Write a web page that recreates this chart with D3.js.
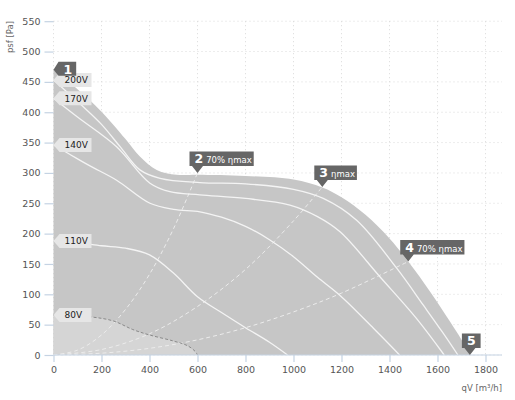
<!DOCTYPE html>
<html>
<head>
<meta charset="utf-8">
<title>Fan curve</title>
<script src="https://cdn.jsdelivr.net/npm/d3@7"></script>
<style>
  body { margin: 0; background: #fff; }
  svg { display: block; font-family: "DejaVu Sans", Verdana, sans-serif; }
</style>
</head>
<body>
<div id="chart"></div>
<script>
// values
var qTicks = [0, 200, 400, 600, 800, 1000, 1200, 1400, 1600, 1800];
var pTicks = [0, 50, 100, 150, 200, 250, 300, 350, 400, 450, 500, 550];

// outer envelope (max. curve)
var envelope = [[0,470],[100,438],[200,401],[300,356],[360,327],[430,305],[513,297],[600,297],
  [800,295],[1000,289],[1120,276],[1200,260],[1300,231],[1400,192],[1478,154],[1570,104],
  [1652,55],[1700,25],[1735,0]];

// speed curves
var curve200 = [[0,453],[124,409],[200,380],[280,342],[360,305],[444,291],[610,284],[800,282],
  [1000,273],[1124,258],[1263,222],[1430,143],[1541,82],[1620,38],[1685,0]];
var curve170 = [[0,423],[100,392],[263,343],[402,283],[485,269],[610,264],[800,258],[985,247],
  [1100,228],[1194,203],[1360,129],[1513,60],[1628,0]];
var curve140 = [[0,346],[62,332],[150,312],[263,288],[402,250],[500,240],[610,236],[700,227],
  [800,212],[900,190],[1000,162],[1100,128],[1194,98],[1333,44],[1442,0]];
var curve110 = [[0,188],[100,185],[200,180],[300,176],[400,165],[500,135],[600,96],[700,70],
  [800,45],[900,21],[975,0]];
var curve80 = [[0,66],[150,63],[250,56],[330,42],[400,33],[500,23],[560,15],[590,6],[600,0]];

var speedCurves = [curve200, curve170, curve140, curve110];
var speedNames = ["200V", "170V", "140V", "110V", "80V"];
var speedStart = [453, 423, 346, 188, 66];

// system curves (dashed) from origin to the marked points
var sys2 = [[0,0],[100,8],[200,33],[300,75],[400,133],[500,208],[600,300]];
var sys3 = [[0,0],[200,9],[400,35],[600,80],[800,141],[1000,221],[1120,277]];
var sys4 = [[0,0],[200,3],[400,11],[600,25],[800,45],[1000,71],[1200,102],[1478,154]];

// numbered markers
var markerNum = ["1", "2", "3", "4", "5"];
var markerText = ["", "70% ηmax", "ηmax", "70% ηmax", ""];
var markerQ = [0, 600, 1120, 1478, 1735];
var markerP = [470, 300, 277, 154, 0];

var W = 515, H = 400;
var svg = d3.select("#chart").append("svg").attr("width", W).attr("height", H);

var x = d3.scaleLinear().domain([0, 1800]).range([53.5, 485.5]);
var y = d3.scaleLinear().domain([0, 550]).range([355, 21.2]);
var xEnd = 502;

// grid
svg.append("g").selectAll("line").data(qTicks).enter().append("line")
  .attr("x1", function(d) { return x(d); }).attr("x2", function(d) { return x(d); })
  .attr("y1", y(550)).attr("y2", y(0))
  .attr("stroke", "#dadada").attr("stroke-dasharray", "1,3");
svg.append("g").selectAll("line").data(pTicks).enter().append("line")
  .attr("x1", x(0)).attr("x2", xEnd)
  .attr("y1", function(d) { return y(d); }).attr("y2", function(d) { return y(d); })
  .attr("stroke", "#dadada").attr("stroke-dasharray", "1,3");

var smooth = d3.curveCatmullRom.alpha(0.5);
var line = d3.line().x(function(d) { return x(d[0]); }).y(function(d) { return y(d[1]); })
  .curve(smooth);
var area = d3.area().x(function(d) { return x(d[0]); }).y0(y(0)).y1(function(d) { return y(d[1]); })
  .curve(smooth);

svg.append("path").attr("d", area(envelope)).attr("fill", "#c6c6c6");
svg.append("path").attr("d", area(curve80)).attr("fill", "#d5d5d5");

// system curves
[sys2, sys3, sys4].forEach(function(c) {
  svg.append("path").attr("d", line(c)).attr("fill", "none")
    .attr("stroke", "#ececec").attr("stroke-width", 1).attr("stroke-dasharray", "4,3");
});

// speed curves
speedCurves.forEach(function(c) {
  svg.append("path").attr("d", line(c)).attr("fill", "none")
    .attr("stroke", "#f4f4f4").attr("stroke-width", 1.3);
});
svg.append("path").attr("d", line(curve80)).attr("fill", "none")
  .attr("stroke", "#8a8a8a").attr("stroke-width", 1).attr("stroke-dasharray", "3,2");

// axes
var xAxis = svg.append("g").attr("transform", "translate(0," + y(0) + ")")
  .call(d3.axisBottom(x).tickValues(qTicks).tickFormat(d3.format("d"))
    .tickSize(7).tickSizeOuter(0).tickPadding(4));
xAxis.select(".domain").attr("d", "M" + x(0) + ",0H" + xEnd);
var yAxis = svg.append("g").attr("transform", "translate(" + x(0) + ",0)")
  .call(d3.axisLeft(y).tickValues(pTicks).tickSize(9).tickSizeOuter(0).tickPadding(4));
yAxis.select(".domain").remove();
svg.selectAll(".tick line").attr("stroke", "#c5d3e3").attr("stroke-width", 1.2);
xAxis.select(".domain").attr("stroke", "#c5d3e3").attr("stroke-width", 1.2);
svg.selectAll(".tick text").attr("fill", "#555").style("font-size", "9.5px")
  .style("font-family", "'DejaVu Sans', Verdana, sans-serif");

svg.append("text").attr("transform", "translate(13,37) rotate(-90)")
  .attr("text-anchor", "middle").attr("fill", "#666").style("font-size", "8.5px").text("psf [Pa]");
svg.append("text").attr("x", xEnd).attr("y", 391)
  .attr("text-anchor", "end").attr("fill", "#666").style("font-size", "8.5px").text("qV [m³/h]");

// voltage labels (pointing to the left axis)
speedNames.forEach(function(name, i) {
  var ty = y(speedStart[i]), tx = x(0);
  var g = svg.append("g");
  g.append("path")
    .attr("d", "M" + tx + "," + ty + "L" + (tx + 6) + "," + (ty - 7) + "H" + (tx + 38) +
      "V" + (ty + 7) + "H" + (tx + 6) + "Z")
    .attr("fill", "#e6e6e6");
  g.append("text").attr("x", tx + 11).attr("y", ty + 3.3)
    .attr("fill", "#222").style("font-size", "9px").text(name);
});

// numbered markers
markerNum.forEach(function(n, i) {
  var tx = x(markerQ[i]), ty = y(markerP[i]);
  var g = svg.append("g");
  var shape = g.append("path").attr("fill", "#666");
  var t = g.append("text").attr("fill", "#fff");
  t.append("tspan").style("font-size", "12.5px").style("font-weight", "bold").text(n);
  if (markerText[i]) {
    t.append("tspan").attr("dx", 3).style("font-size", "8.5px").text(markerText[i]);
  }
  var w = t.node().getComputedTextLength();
  if (i === 0) {
    // left-pointing marker at the y axis
    t.attr("x", tx + 10).attr("y", ty + 4);
    var bw = w + 14;
    shape.attr("d", "M" + tx + "," + ty + "L" + (tx + 5) + "," + (ty - 8) + "H" + (tx + bw) +
      "V" + (ty + 6) + "H" + (tx + 5) + "Z");
  } else {
    var left = tx - 8, bottom = ty - 7, top = bottom - 14.5;
    t.attr("x", left + 5).attr("y", bottom - 2.8);
    var bw2 = w + 10;
    shape.attr("d", "M" + left + "," + top + "H" + (left + bw2) + "V" + bottom +
      "H" + (tx + 5.5) + "L" + tx + "," + ty + "L" + (tx - 5.5) + "," + bottom + "H" + left + "Z");
  }
});
</script>
</body>
</html>
